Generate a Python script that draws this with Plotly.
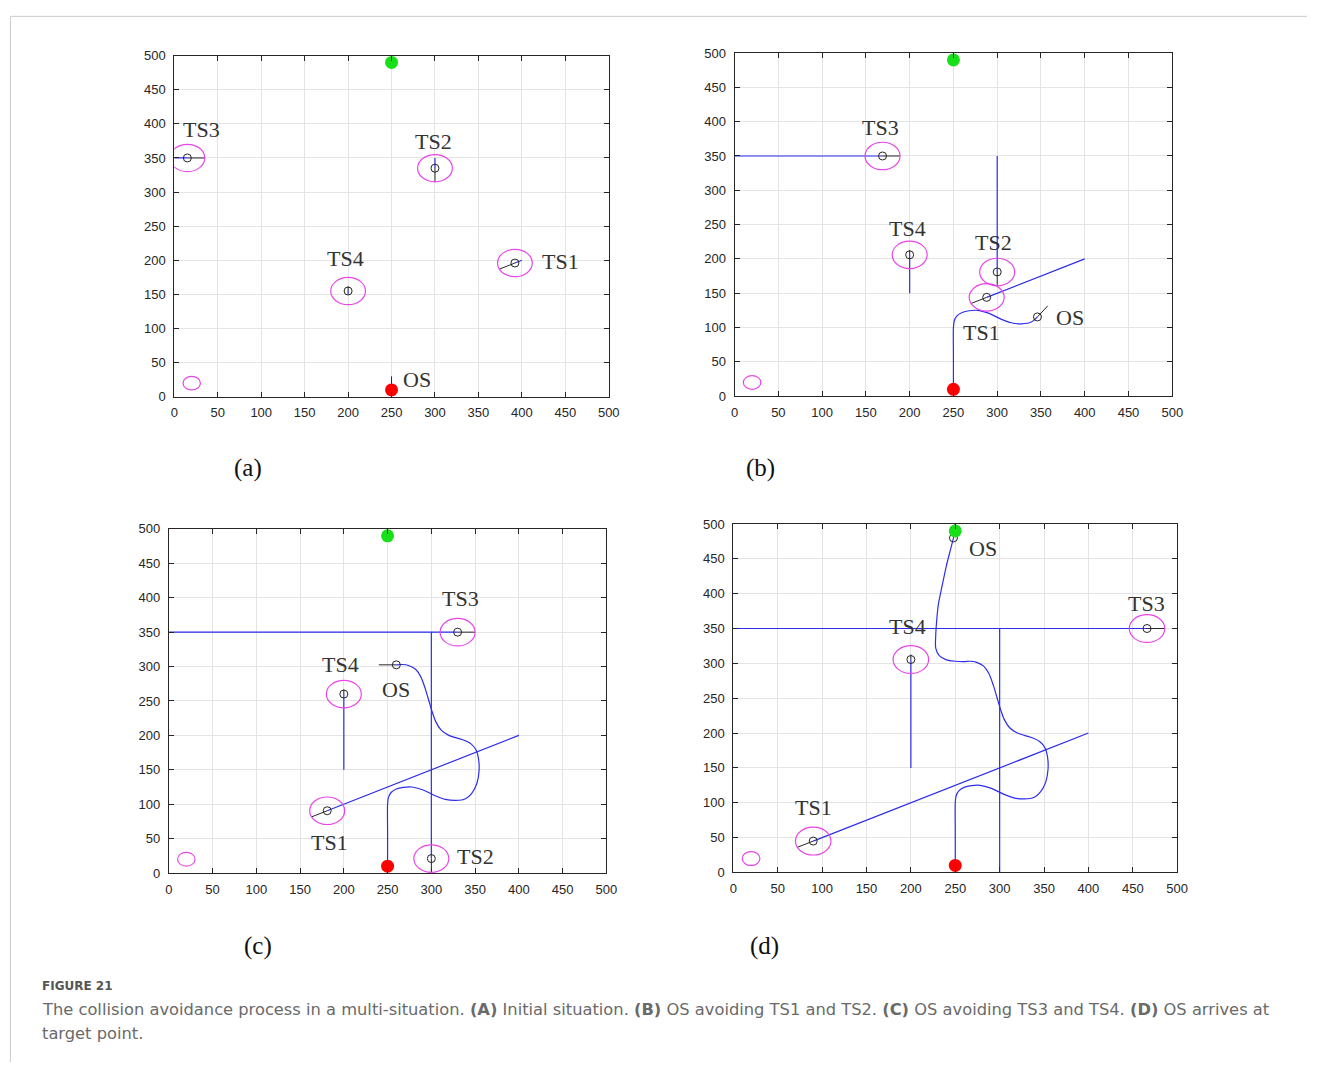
import math
import plotly.graph_objects as go

W, H = 1319, 1074


def px(x):
    return x / W


def py(y):
    return 1 - y / H


# ---- shared axis ticks -------------------------------------------------
TICKS = [0, 50, 100, 150, 200, 250, 300, 350, 400, 450, 500]
TICK_TEXT = [str(t) for t in TICKS]

# ---- start / goal of own ship ----------------------------------------
START = (250, 10)
GOAL = (250, 490)

# ---- target ships: start points and positions in the four snapshots ---
TS1_START = (400, 200)
TS2_START = (300, 350)
TS3_START = (0, 350)
TS4_START = (200, 150)

TS1_X = [392, 288, 181, 90]
TS1_Y = [196, 144, 90.5, 45]
TS2_X = [300, 300, 300, 300]
TS2_Y = [335, 181, 21, -135]
TS3_X = [15, 169, 330, 466]
TS3_Y = [350, 350, 350, 350]
TS4_X = [200, 200, 200, 200]
TS4_Y = [155, 206, 260, 305.5]

# heading-vector lengths
TS_HEAD_LEN = [20, 20, 20, 7]
OS_HEAD_LEN = 20
OS_HEAD_DEG = [90, 54, 180, 85]

# safety ring radius around target ships, and the small reference ring
RING_R = 20
REF_RING = (20, 20, 10)

# ---- own-ship trajectory ---------------------------------------------
OS_X = [250, 250, 250, 251, 254, 260, 268, 278, 290, 305, 316, 328, 339, 346,
        352, 354.5, 354, 351, 345, 335, 320, 311, 305, 301, 297, 293, 288, 282,
        274, 267, 260,
        250, 240, 232, 228, 228, 229, 231, 235, 240, 245, 248]
OS_Y = [10, 60, 100, 110, 117, 122, 124.5, 125, 121, 112, 107, 105.5, 108, 115.5,
        130, 148, 165, 179, 188, 194, 200, 208, 220, 234, 251, 268, 285, 296,
        301.5, 303, 302.5,
        303, 305, 311, 322, 340, 360, 385, 410, 440, 465, 480]
OS_STEPS = [1, 14, 31, 42]

# ---- ship labels per snapshot ----------------------------------------
LABELS = [
    [("TS3", 31.5, 391), ("TS2", 298, 374), ("TS4", 196.5, 203), ("TS1", 445, 198), ("OS", 279, 25)],
    [("TS3", 167, 392), ("TS4", 197, 244), ("TS2", 296, 224), ("TS1", 282, 93), ("OS", 383, 114.5)],
    [("TS3", 333, 399), ("TS4", 196.5, 303), ("OS", 260, 267), ("TS1", 184, 45), ("TS2", 350, 24)],
    [("OS", 281, 465), ("TS3", 465, 386), ("TS4", 196, 353), ("TS1", 90, 93)],
]
PANEL_TAGS = ["(a)", "(b)", "(c)", "(d)"]

# ---- subplot placement on the page (left, right, top, bottom) ----------
BOXES = [
    (172.3, 611.7, 49.3, 395.3),
    (739.0, 1181.7, 46.7, 394.7),
    (166.7, 609.3, 529.3, 878.3),
    (737.7, 1186.7, 524.3, 877.7),
]
TAG_POS = [(247, 468), (765, 468), (257, 952), (769, 952)]

BLUE = "rgb(45,45,235)"
MAGENTA = "rgb(232,70,232)"
DARK = "#262626"
SERIF = "Liberation Serif, Times New Roman, serif"
SANS = "Liberation Sans, Arial, sans-serif"
CAP_FONT = "DejaVu Sans, sans-serif"

fig = go.Figure()
shapes = []
annotations = []


def in_view(x, y):
    return 0 <= x <= 500 and 0 <= y <= 500


for i in range(4):
    xa = "x" if i == 0 else f"x{i + 1}"
    ya = "y" if i == 0 else f"y{i + 1}"
    l, r, t, b = BOXES[i]
    axis_common = dict(
        range=[0, 500], tickmode="array", tickvals=TICKS, ticktext=TICK_TEXT,
        showgrid=True, gridcolor="#e4e4e4", gridwidth=1,
        showline=True, linecolor=DARK, linewidth=1, mirror="ticks",
        ticks="inside", ticklen=5, tickcolor=DARK, tickwidth=1,
        zeroline=False, fixedrange=True,
        tickfont=dict(family=SANS, size=13, color=DARK),
    )
    fig.layout[f"xaxis{'' if i == 0 else i + 1}"] = dict(
        axis_common, domain=[px(l), px(r)], anchor=ya, ticklabelstandoff=4)
    fig.layout[f"yaxis{'' if i == 0 else i + 1}"] = dict(
        axis_common, domain=[py(b), py(t)], anchor=xa, ticklabelstandoff=5)

    ships = [
        (TS1_START, TS1_X[i], TS1_Y[i], TS_HEAD_LEN[0]),
        (TS2_START, TS2_X[i], TS2_Y[i], TS_HEAD_LEN[1]),
        (TS3_START, TS3_X[i], TS3_Y[i], TS_HEAD_LEN[2]),
        (TS4_START, TS4_X[i], TS4_Y[i], TS_HEAD_LEN[3]),
    ]

    # target ship tracks (blue) and heading vectors (black)
    for (sx, sy), cx, cy, hl in ships:
        fig.add_trace(go.Scatter(x=[sx, cx], y=[sy, cy], mode="lines", xaxis=xa, yaxis=ya,
                                 line=dict(color=BLUE, width=1.2), hoverinfo="skip",
                                 showlegend=False))
        dx, dy = cx - sx, cy - sy
        n = math.hypot(dx, dy)
        ux, uy = dx / n, dy / n
        if in_view(cx, cy):
            fig.add_trace(go.Scatter(x=[cx, cx + ux * hl], y=[cy, cy + uy * hl], mode="lines",
                                     xaxis=xa, yaxis=ya, line=dict(color=DARK, width=1),
                                     hoverinfo="skip", showlegend=False))

    # own ship trajectory
    k = OS_STEPS[i]
    ox, oy = OS_X[k - 1], OS_Y[k - 1]
    if k > 1:
        fig.add_trace(go.Scatter(x=OS_X[:k], y=OS_Y[:k], mode="lines", xaxis=xa, yaxis=ya,
                                 line=dict(color=BLUE, width=1.2, shape="spline", smoothing=0.8),
                                 hoverinfo="skip", showlegend=False))
    ang = math.radians(OS_HEAD_DEG[i])
    fig.add_trace(go.Scatter(x=[ox, ox + OS_HEAD_LEN * math.cos(ang)],
                             y=[oy, oy + OS_HEAD_LEN * math.sin(ang)], mode="lines",
                             xaxis=xa, yaxis=ya, line=dict(color=DARK, width=1),
                             hoverinfo="skip", showlegend=False))

    # ship position markers
    mx = [s[1] for s in ships if in_view(s[1], s[2])] + [ox]
    my = [s[2] for s in ships if in_view(s[1], s[2])] + [oy]
    fig.add_trace(go.Scatter(x=mx, y=my, mode="markers", xaxis=xa, yaxis=ya,
                             marker=dict(symbol="circle-open", size=8, color=DARK,
                                         line=dict(width=1, color=DARK)),
                             hoverinfo="skip", showlegend=False))

    # start (red) and goal (green)
    fig.add_trace(go.Scatter(x=[START[0]], y=[START[1]], mode="markers", xaxis=xa, yaxis=ya,
                             marker=dict(size=13, color="#ff0000"), hoverinfo="skip",
                             showlegend=False))
    fig.add_trace(go.Scatter(x=[GOAL[0]], y=[GOAL[1]], mode="markers", xaxis=xa, yaxis=ya,
                             marker=dict(size=13, color="#18e018"), hoverinfo="skip",
                             showlegend=False))

    # safety rings
    for (sx, sy), cx, cy, hl in ships:
        if in_view(cx, cy):
            shapes.append(dict(type="circle", xref=xa, yref=ya,
                               x0=cx - RING_R, x1=cx + RING_R, y0=cy - RING_R, y1=cy + RING_R,
                               line=dict(color=MAGENTA, width=1.2)))
    rx, ry, rr = REF_RING
    shapes.append(dict(type="circle", xref=xa, yref=ya, x0=rx - rr, x1=rx + rr,
                       y0=ry - rr, y1=ry + rr, line=dict(color=MAGENTA, width=1.2)))

    # labels
    for txt, lx, ly in LABELS[i]:
        annotations.append(dict(text=txt, x=lx, y=ly, xref=xa, yref=ya, showarrow=False,
                                xanchor="center", yanchor="middle",
                                font=dict(family=SERIF, size=22, color="#333333")))
    tx, ty = TAG_POS[i]
    annotations.append(dict(text=PANEL_TAGS[i], x=px(tx), y=py(ty), xref="paper",
                            yref="paper", showarrow=False, xanchor="center", yanchor="middle",
                            font=dict(family=SERIF, size=25, color="#111111")))

# caption
CAPTION_HEAD = "FIGURE 21"
CAPTION_L1 = ("The collision avoidance process in a multi-situation. <b>(A)</b> Initial situation. "
              "<b>(B)</b> OS avoiding TS1 and TS2. <b>(C)</b> OS avoiding TS3 and TS4. "
              "<b>(D)</b> OS arrives at")
CAPTION_L2 = "target point."
annotations.append(dict(text=f"<b>{CAPTION_HEAD}</b>", x=px(36), y=py(993), xref="paper",
                        yref="paper", showarrow=False, xanchor="left", yanchor="middle",
                        font=dict(family=CAP_FONT, size=12, color="#555555")))
annotations.append(dict(text=CAPTION_L1, x=px(36), y=py(1017), xref="paper", yref="paper",
                        showarrow=False, xanchor="left", yanchor="middle",
                        font=dict(family=CAP_FONT, size=16.3, color="#6a6a6a")))
annotations.append(dict(text=CAPTION_L2, x=px(36), y=py(1041), xref="paper", yref="paper",
                        showarrow=False, xanchor="left", yanchor="middle",
                        font=dict(family=CAP_FONT, size=16.3, color="#6a6a6a")))

# page frame
shapes.append(dict(type="line", xref="paper", yref="paper", x0=px(6.5), x1=px(1318),
                   y0=py(9.5), y1=py(9.5), line=dict(color="#cccccc", width=1)))
shapes.append(dict(type="line", xref="paper", yref="paper", x0=px(6.5), x1=px(6.5),
                   y0=py(9.5), y1=py(1070), line=dict(color="#cccccc", width=1)))

fig.update_layout(width=W, height=H, margin=dict(l=0, r=0, t=0, b=0),
                  paper_bgcolor="white", plot_bgcolor="white",
                  shapes=shapes, annotations=annotations, showlegend=False)

fig.write_html("out.html", config={"displayModeBar": False})
